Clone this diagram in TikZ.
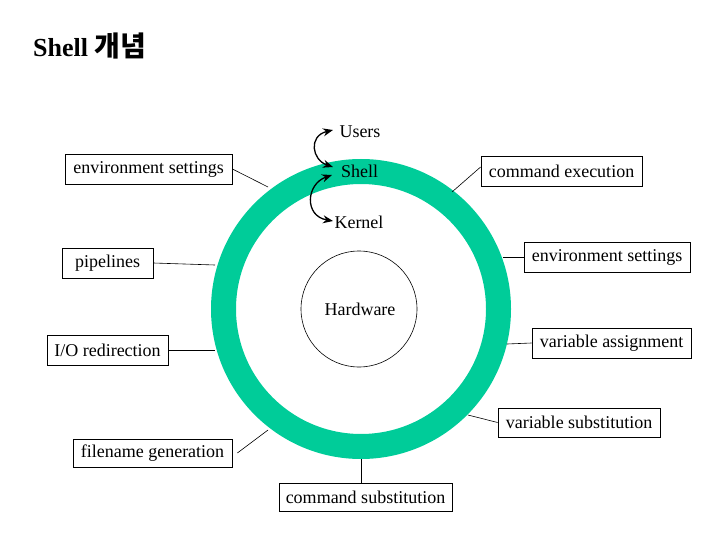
\documentclass[tikz,border=0pt]{standalone}
\usepackage{fontspec}
\setmainfont{Liberation Serif}
\newfontfamily\kr{Noto Sans CJK KR}
\usetikzlibrary{arrows.meta}
\definecolor{ringgreen}{RGB}{0,204,153}
\begin{document}
\begin{tikzpicture}[x=1pt,y=-1pt,
  box/.style={draw=black,line width=0.8pt,fill=white,inner sep=0pt,minimum height=30pt,font=\fontsize{18}{20}\selectfont},
  lbl/.style={inner sep=0pt,font=\fontsize{18}{20}\selectfont},
  conn/.style={draw=black,line width=0.6pt},
  twoway/.style={{Stealth[length=10pt,width=8pt]}-{Stealth[length=10pt,width=8pt]},line width=1.3pt}]
\useasboundingbox (0,0) rectangle (720,540);
% title
\node[anchor=base west,inner sep=0pt,font=\fontsize{26}{30}\selectfont\bfseries] (title) at (33,57) {Shell {\kr\fontsize{28}{30}\selectfont 개념}};
% ring and hardware
\coordinate (c) at (361,309);
\draw[ringgreen,line width=25pt] (c) circle[radius=137.5pt];
\node[draw=black,line width=0.6pt,circle,minimum size=116pt,inner sep=0pt] (hwc) at (359,309) {};
\node[lbl] (hw) at (360,309) {Hardware};
% layer labels
\node[lbl] (users) at (360,132) {Users};
\node[lbl] (shell) at (359.5,171) {Shell};
\node[lbl] (kernel) at (359,222) {Kernel};
\coordinate (u1) at (333,130);
\coordinate (s1) at (333,167);
\coordinate (s2) at (332,175);
\coordinate (k1) at (333,221);
\draw[twoway] (s1) .. controls (312,160) and (308,136) .. (u1);
\draw[twoway] (s2) .. controls (306,184) and (304,216) .. (k1);
% boxes
\node[box,minimum width=167pt] (envL) at (148.5,169) {environment settings};
\node[box,minimum width=91pt] (pipe) at (107.5,263) {pipelines};
\node[box,minimum width=121pt] (io) at (107.5,350) {I/O redirection};
\node[box,minimum width=159pt,minimum height=28pt] (fname) at (152.5,453) {filename generation};
\node[box,minimum width=173pt,minimum height=28pt] (csub) at (365.5,497) {command substitution};
\node[box,minimum width=161pt] (cexec) at (561.5,171) {command execution};
\node[box,minimum width=166pt] (envR) at (607,257) {environment settings};
\node[box,minimum width=159pt] (vassign) at (611.5,343) {variable assignment};
\node[box,minimum width=162pt,minimum height=29pt] (vsub) at (579,422.5) {variable substitution};
% ring attachment points
\coordinate (rEnvL) at (268,187);
\coordinate (rPipe) at (215,265);
\coordinate (rIO) at (215,350);
\coordinate (rFname) at (268,430);
\coordinate (rCsub) at (361,459);
\coordinate (rCexec) at (452,192);
\coordinate (rEnvR) at (503,257);
\coordinate (rVassign) at (507,344);
\coordinate (rVsub) at (468,415);
% connectors
\draw[conn] (envL.east) -- (rEnvL);
\draw[conn] (pipe.east) -- (rPipe);
\draw[conn] (io.east) -- (rIO);
\draw[conn] ([xshift=5pt]fname.east) -- (rFname);
\draw[conn] (csub.north -| rCsub) -- (rCsub);
\draw[conn] ([yshift=4pt]cexec.west) -- (rCexec);
\draw[conn] (envR.west) -- (rEnvR);
\draw[conn] (vassign.west) -- (rVassign);
\draw[conn] (vsub.west) -- (rVsub);
\end{tikzpicture}
\end{document}
